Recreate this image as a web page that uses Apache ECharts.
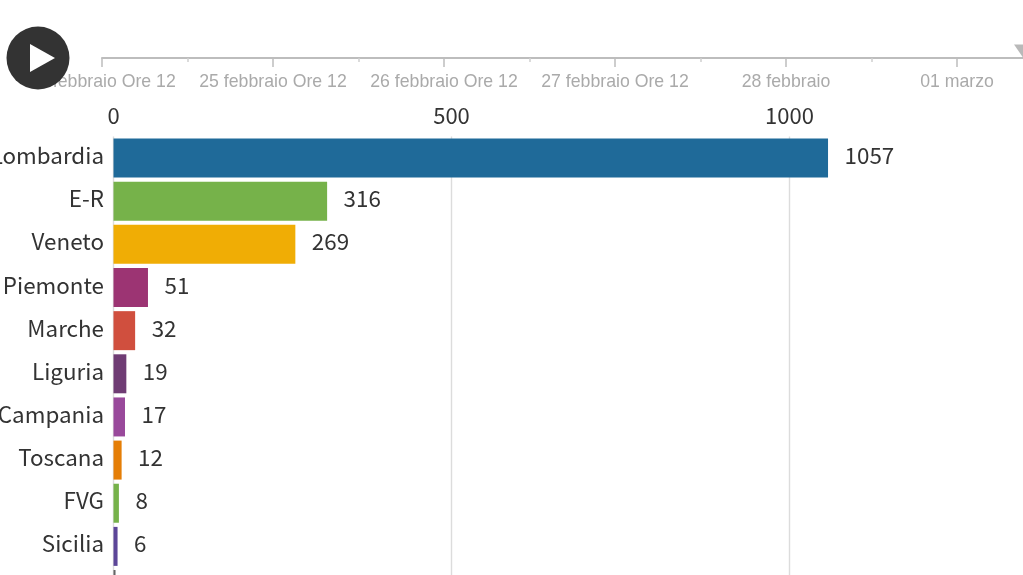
<!DOCTYPE html>
<html>
<head>
<meta charset="utf-8">
<style>html,body{margin:0;padding:0;background:#fff;overflow:hidden}#c{width:1023px;height:575px}</style>
<script src="https://cdn.jsdelivr.net/npm/echarts@6/dist/echarts.min.js"></script>
</head>
<body>
<div id="c"></div>
<script>
const regions = ['Lombardia','E-R','Veneto','Piemonte','Marche','Liguria','Campania','Toscana','FVG','Sicilia','Lazio'];
const cases = [1057,316,269,51,32,19,17,12,8,6,3];
const barColors = ['#1f6a99','#76b24a','#f0ad05','#9c3473','#d04f3e','#6f3c74','#99499b','#e57e06','#76b24a','#5c4698','#666666'];
const timeLabels = ['24 febbraio Ore 12','25 febbraio Ore 12','26 febbraio Ore 12','27 febbraio Ore 12','28 febbraio','01 marzo',''];
const currentTime = [[5.386,0]];
const SANS = '"Noto Sans CJK SC","Noto Sans",sans-serif';
const chart = echarts.init(document.getElementById('c'),null,{renderer:'canvas'});
chart.setOption({
  animation:false,
  backgroundColor:'#ffffff',
  grid:[
    {left:113.5,top:136.5,width:1014,height:474.6,outerBoundsMode:'none'},
    {left:102,top:58,width:1026,height:0,outerBoundsMode:'none'}
  ],
  xAxis:[
    {type:'value',gridIndex:0,position:'top',min:0,max:1500,interval:500,
     axisLine:{show:false},axisTick:{show:false},
     axisLabel:{show:true,margin:10,color:'#333',fontSize:22,fontFamily:SANS,showMaxLabel:false,formatter:(v)=>String(v)},
     splitLine:{show:true,lineStyle:{color:'#dcdcdc',width:1.4}}},
    {type:'value',gridIndex:1,position:'bottom',min:0,max:6,interval:1,
     axisLine:{show:true,lineStyle:{color:'#bdbdbd',width:2}},
     axisTick:{show:true,inside:false,length:9,lineStyle:{color:'#bdbdbd',width:1.5}},
     minorTick:{show:true,splitNumber:2,length:4,lineStyle:{color:'#d0d0d0',width:1.5}},
     axisLabel:{show:true,margin:15,color:'#aaaaaa',fontSize:17.7,fontFamily:'"Liberation Sans",Arial,sans-serif',
       formatter:(v)=>timeLabels[v]},
     splitLine:{show:false}}
  ],
  yAxis:[
    {type:'category',gridIndex:0,inverse:true,data:regions,
     axisLine:{show:false},axisTick:{show:false},
     axisLabel:{margin:9.5,formatter:(v)=>'{a|'+v+'}',
       rich:{a:{color:'#333',fontSize:22.4,fontFamily:SANS,padding:[0,0,5,0]}}},
     splitLine:{show:false}},
    {type:'value',gridIndex:1,min:0,max:1,show:false}
  ],
  series:[
    {type:'bar',xAxisIndex:0,yAxisIndex:0,barWidth:39,
     data:cases.map((v,i)=>({value:v,itemStyle:{color:barColors[i]}})),
     label:{show:true,position:'right',distance:16.5,color:'#333',fontSize:22.4,fontFamily:SANS,offset:[0,-2.5]}},
    {type:'scatter',xAxisIndex:1,yAxisIndex:1,data:currentTime,symbol:'triangle',symbolRotate:180,
     symbolSize:[18,13],symbolOffset:[0,-7],clip:false,itemStyle:{color:'#a8a8a8'},silent:true,z:5}
  ],
  graphic:[
    {type:'circle',z:100,shape:{cx:38,cy:58,r:31.5},style:{fill:'#333333'}},
    {type:'polygon',z:101,shape:{points:[[30,44],[30,72],[55,58]]},style:{fill:'#ffffff'}}
  ]
});
</script>
</body>
</html>
